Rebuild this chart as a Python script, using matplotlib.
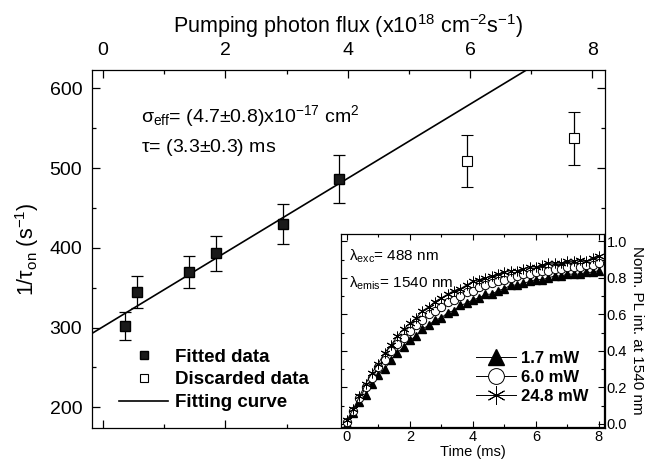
import matplotlib
matplotlib.use("Agg")
import matplotlib.pyplot as plt
from matplotlib.lines import Line2D
from matplotlib.ticker import MultipleLocator

plt.rcParams['font.family'] = ['Liberation Sans', 'DejaVu Sans']
plt.rcParams['mathtext.fontset'] = 'custom'
plt.rcParams['mathtext.rm'] = 'Liberation Sans'
plt.rcParams['mathtext.it'] = 'Liberation Sans'
plt.rcParams['mathtext.default'] = 'regular'

# main panel data: 1/tau_on vs pumping photon flux
fit_flux = [0.36, 0.55, 1.40, 1.85, 2.95, 3.85]
fit_rate = [302, 345, 370, 393, 430, 486]
fit_err = [18, 20, 20, 22, 25, 30]
disc_flux = [5.95, 7.70]
disc_rate = [509, 537]
disc_err = [33, 33]
fit_intercept = 301.0
fit_slope = 46.5

# inset data: normalised PL rise
time_ms = [0.0, 0.2, 0.4, 0.6, 0.8, 1.0, 1.2, 1.4, 1.6, 1.8, 2.0, 2.2, 2.4, 2.6,
           2.8, 3.0, 3.2, 3.4, 3.6, 3.8, 4.0, 4.2, 4.4, 4.6, 4.8, 5.0, 5.2, 5.4,
           5.6, 5.8, 6.0, 6.2, 6.4, 6.6, 6.8, 7.0, 7.2, 7.4, 7.6, 7.8, 8.0]
pl_17mw = [0.00, 0.06, 0.12, 0.16, 0.22, 0.27, 0.30, 0.35, 0.39, 0.42, 0.46, 0.48,
           0.52, 0.54, 0.57, 0.58, 0.61, 0.62, 0.65, 0.66, 0.68, 0.69, 0.71, 0.71,
           0.73, 0.74, 0.76, 0.76, 0.77, 0.78, 0.79, 0.79, 0.80, 0.81, 0.81, 0.82,
           0.82, 0.82, 0.83, 0.83, 0.84]
pl_60mw = [0.01, 0.07, 0.14, 0.20, 0.25, 0.31, 0.35, 0.40, 0.44, 0.47, 0.51, 0.54,
           0.57, 0.60, 0.62, 0.64, 0.67, 0.68, 0.70, 0.72, 0.73, 0.75, 0.76, 0.77,
           0.78, 0.79, 0.80, 0.81, 0.82, 0.82, 0.83, 0.84, 0.84, 0.85, 0.85, 0.86,
           0.86, 0.86, 0.87, 0.87, 0.88]
pl_248mw = [0.02, 0.08, 0.15, 0.22, 0.28, 0.33, 0.39, 0.43, 0.48, 0.52, 0.55, 0.58,
            0.62, 0.64, 0.67, 0.69, 0.71, 0.73, 0.74, 0.76, 0.78, 0.79, 0.80, 0.81,
            0.82, 0.83, 0.84, 0.84, 0.85, 0.86, 0.86, 0.87, 0.88, 0.88, 0.88, 0.89,
            0.89, 0.90, 0.89, 0.91, 0.92]

fig = plt.figure(figsize=(6.48, 4.63), dpi=100)
ax = fig.add_axes([0.142, 0.0756, 0.792, 0.7734])

ax.errorbar(fit_flux, fit_rate, yerr=fit_err, fmt='s', color='black', ms=7,
            mfc='#1a1a1a', mec='black', elinewidth=0.9, capsize=4, capthick=0.9)
ax.errorbar(disc_flux, disc_rate, yerr=disc_err, fmt='s', color='black', ms=7,
            mfc='white', mec='black', mew=0.8, elinewidth=0.9, capsize=4, capthick=0.9)
xl = [-0.18, 8.21]
ax.plot(xl, [fit_intercept + fit_slope * v for v in xl], color='black', lw=1.2)

ax.set_xlim(-0.18, 8.21)
ax.set_ylim(174, 623)
ax.xaxis.set_major_locator(MultipleLocator(2))
ax.xaxis.set_minor_locator(MultipleLocator(1))
ax.yaxis.set_major_locator(MultipleLocator(100))
ax.yaxis.set_minor_locator(MultipleLocator(50))
ax.tick_params(which='both', direction='in', top=True, bottom=True, left=True, right=True,
               labeltop=True, labelbottom=False, labelsize=14, width=0.9)
ax.tick_params(which='major', length=6)
ax.tick_params(which='minor', length=3)
ax.tick_params(axis='x', pad=8)
ax.tick_params(axis='y', pad=7)
ax.xaxis.set_label_position('top')
ax.set_xlabel('Pumping photon flux (x10$^{18}$ cm$^{-2}$s$^{-1}$)', fontsize=15.5, labelpad=6)
ax.set_ylabel('1/$\\tau_{on}$ (s$^{-1}$)', fontsize=15.5, labelpad=6)
for s in ax.spines.values():
    s.set_linewidth(0.9)

ax.text(0.095, 0.855, '$\\sigma_{eff}$= (4.7$\\pm$0.8)x10$^{-17}$ cm$^{2}$',
        transform=ax.transAxes, fontsize=14)
ax.text(0.095, 0.77, '$\\tau$= (3.3$\\pm$0.3) ms', transform=ax.transAxes, fontsize=14)

handles = [Line2D([], [], marker='s', ls='none', color='black', mfc='#1a1a1a', ms=6),
           Line2D([], [], marker='s', ls='none', color='black', mfc='white', mew=0.8, ms=6),
           Line2D([], [], color='black', lw=1.2)]
ax.legend(handles, ['Fitted data', 'Discarded data', 'Fitting curve'], loc='lower left',
          bbox_to_anchor=(0.02, 0.0), frameon=False, prop={'weight': 'bold', 'size': 13.5},
          handlelength=2.6, labelspacing=0.3, handletextpad=0.4)

ins = fig.add_axes([0.526, 0.0778, 0.406, 0.4168])
ins.plot(time_ms, pl_17mw, color='black', lw=0.7, marker='^', ms=6, mfc='black')
ins.plot(time_ms, pl_60mw, color='black', lw=0.7, marker='o', ms=6, mfc='white', mew=0.7)
ins.plot(time_ms, pl_248mw, color='black', lw=0.7, marker=(6, 2, 0), ms=7, mew=0.7)
ins.set_xlim(-0.19, 8.16)
ins.set_ylim(-0.017, 1.04)
ins.xaxis.set_major_locator(MultipleLocator(2))
ins.xaxis.set_minor_locator(MultipleLocator(1))
ins.yaxis.set_major_locator(MultipleLocator(0.2))
ins.yaxis.set_minor_locator(MultipleLocator(0.1))
ins.yaxis.set_major_formatter(matplotlib.ticker.FormatStrFormatter('%.1f'))
ins.tick_params(which='both', direction='in', top=True, bottom=True, left=True, right=True,
                labelleft=False, labelright=True, labelsize=10.5, width=0.8, pad=2)
ins.tick_params(which='major', length=4)
ins.tick_params(which='minor', length=2)
ins.yaxis.set_label_position('right')
ins.set_ylabel('Norm. PL int. at 1540 nm', fontsize=11, rotation=-90, labelpad=12)
ins.set_xlabel('Time (ms)', fontsize=10.5, labelpad=1)
for s in ins.spines.values():
    s.set_linewidth(0.9)
ins.text(0.03, 0.86, '$\\lambda_{exc}$= 488 nm', transform=ins.transAxes, fontsize=11)
ins.text(0.03, 0.72, '$\\lambda_{emis}$= 1540 nm', transform=ins.transAxes, fontsize=11)
ins.legend(['1.7 mW', '6.0 mW', '24.8 mW'], loc='lower right', bbox_to_anchor=(1.0, 0.04),
           frameon=False, prop={'weight': 'bold', 'size': 12}, markerscale=1.9,
           handlelength=2.4, labelspacing=0.25, handletextpad=0.3)

fig.savefig('out.png', dpi=100)
